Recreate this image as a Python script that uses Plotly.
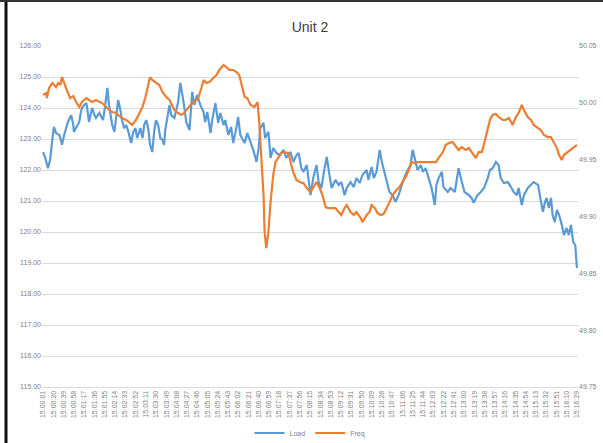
import plotly.graph_objects as go

# Sample times are seconds after 15:00:01
START = "15:00:01"

load_t = [0, 4, 9, 13, 17, 20, 24, 30, 33, 35, 39, 43, 46, 52, 56, 57, 61, 67, 70, 72,
          76, 80, 82, 85, 89, 91, 95, 98, 104, 108, 111, 115, 119, 122, 126, 128, 132, 135, 139, 143,
          146, 150, 154, 158, 161, 163, 167, 171, 174, 178, 180, 184, 187, 191, 195, 198, 202, 206, 209, 213,
          217, 221, 224, 226, 230, 234, 237, 243, 250, 254, 260, 265, 271, 276, 280, 285, 291, 297, 300, 304,
          310, 313, 319, 324, 328, 334, 337, 343, 348, 352, 358, 361, 365, 373, 378, 384, 389, 395, 399, 402,
          408, 411, 417, 421, 426, 432, 437, 445, 450, 458, 463, 469, 473, 478, 482, 488, 495, 500, 506, 510,
          515, 521, 525, 530, 534, 541, 547, 552, 558, 562, 569, 575, 580, 586, 591, 599, 602, 608, 612, 617,
          623, 627, 632, 636, 641, 647, 652, 658, 662, 667, 673, 680, 684, 690, 693, 699, 703, 708, 714, 719,
          725, 728, 732, 738, 741, 749, 754, 762, 767, 769, 775, 780, 788, 793, 797, 804, 810, 816, 823, 827,
          832, 838, 843, 847, 853, 860, 866, 871, 877, 880, 886, 890, 897, 903, 908, 916, 919, 925, 929, 932,
          936, 940, 943, 947, 951, 955, 960, 964, 969, 973, 977, 981, 985, 988]
load_mw = [122.58, 122.39, 122.06, 122.32, 122.97, 123.39, 123.19, 123.13, 122.97, 122.81,
           123.13, 123.35, 123.55, 123.77, 123.45, 123.23, 123.35, 123.55, 123.87, 124.00,
           124.10, 124.16, 123.94, 123.55, 123.87, 124.00, 123.77, 123.68, 123.84, 123.68,
           123.61, 124.10, 124.65, 124.10, 123.68, 123.45, 123.23, 123.61, 124.26, 123.94,
           123.61, 123.35, 123.45, 123.23, 122.97, 122.87, 123.23, 123.35, 123.03, 123.29,
           123.35, 123.03, 123.45, 123.61, 123.29, 122.81, 122.58, 123.29, 123.61, 123.45,
           123.03, 122.97, 122.81, 123.29, 123.77, 124.10, 123.77, 123.68, 124.19, 124.81,
           124.19, 123.55, 123.29, 124.52, 124.10, 124.42, 124.10, 123.87, 123.55, 123.87,
           123.19, 123.61, 124.16, 123.52, 123.84, 123.45, 123.61, 123.13, 123.39, 122.87,
           123.39, 123.71, 123.13, 122.87, 123.19, 122.90, 122.65, 122.26, 122.71, 123.35,
           123.52, 123.03, 123.23, 122.39, 122.71, 122.55, 122.48, 122.65, 122.39, 122.58,
           122.26, 122.48, 122.55, 122.06, 121.94, 122.16, 121.19, 121.74, 122.16, 121.61,
           121.42, 122.06, 122.42, 121.84, 121.42, 121.68, 121.52, 121.61, 121.19, 121.42,
           121.61, 121.45, 121.74, 121.58, 121.84, 122.00, 121.68, 122.10, 121.74, 121.94,
           122.65, 122.26, 121.94, 121.61, 121.29, 121.19, 120.97, 121.19, 121.42, 121.68,
           121.94, 122.16, 122.65, 122.26, 122.00, 122.16, 121.94, 122.06, 121.74, 121.42,
           120.87, 121.52, 121.74, 121.94, 121.45, 121.29, 121.42, 121.29, 121.84, 122.06,
           121.61, 121.29, 121.19, 121.10, 120.94, 121.19, 121.29, 121.42, 121.74, 122.00,
           122.06, 122.26, 122.16, 121.74, 121.58, 121.61, 121.45, 121.29, 121.19, 121.42,
           120.87, 121.19, 121.42, 121.52, 121.61, 121.52, 121.19, 120.65, 120.97, 121.10,
           120.77, 121.10, 120.55, 120.32, 120.71, 120.55, 120.23, 119.90, 120.13, 119.90,
           120.23, 119.68, 119.58, 118.84]

freq_t = [0, 6, 7, 11, 17, 24, 28, 32, 35, 39, 44, 50, 56, 61, 67, 72, 80, 85, 91, 98,
          104, 109, 117, 122, 128, 135, 141, 146, 154, 159, 165, 172, 178, 184, 189, 193, 198, 202, 209, 215,
          221, 228, 234, 239, 243, 250, 256, 261, 269, 274, 280, 287, 293, 297, 302, 308, 315, 321, 326, 334,
          339, 345, 352, 358, 363, 367, 373, 378, 384, 391, 397, 400, 404, 408, 410, 413, 417, 421, 426, 430,
          436, 441, 447, 454, 458, 463, 469, 475, 482, 488, 495, 500, 506, 512, 517, 523, 528, 534, 541, 547,
          552, 558, 562, 569, 575, 580, 588, 591, 599, 604, 608, 614, 619, 625, 630, 636, 641, 647, 654, 660,
          665, 673, 678, 682, 688, 693, 704, 717, 727, 732, 740, 745, 751, 758, 764, 769, 775, 782, 788, 795,
          801, 806, 812, 817, 823, 827, 832, 838, 843, 851, 856, 862, 869, 875, 880, 886, 890, 897, 903, 908,
          916, 921, 927, 934, 940, 945, 951, 955, 960, 964, 971, 977, 982, 988]
freq_hz = [50.0069, 50.0086, 50.0042, 50.0130, 50.0174, 50.0139, 50.0174, 50.0157, 50.0227, 50.0183,
           50.0113, 50.0042, 50.0060, 50.0007, 49.9963, 50.0007, 50.0042, 50.0025, 50.0007, 50.0025,
           50.0007, 49.9998, 49.9963, 49.9937, 49.9919, 49.9910, 49.9884, 49.9866, 49.9849, 49.9831,
           49.9805, 49.9849, 49.9910, 49.9963, 50.0042, 50.0113, 50.0227, 50.0201, 50.0174, 50.0157,
           50.0095, 50.0051, 50.0025, 49.9981, 49.9937, 49.9910, 49.9893, 49.9910, 49.9963, 49.9990,
           50.0007, 50.0042, 50.0130, 50.0201, 50.0174, 50.0183, 50.0218, 50.0245, 50.0289, 50.0333,
           50.0315, 50.0289, 50.0289, 50.0271, 50.0245, 50.0157, 50.0051, 50.0042, 49.9981, 49.9963,
           50.0007, 49.9831, 49.9541, 49.9189, 49.8863, 49.8722, 49.8863, 49.9127, 49.9365, 49.9479,
           49.9523, 49.9558, 49.9567, 49.9558, 49.9479, 49.9391, 49.9321, 49.9303, 49.9294, 49.9250,
           49.9215, 49.9259, 49.9303, 49.9250, 49.9189, 49.9083, 49.9074, 49.9074, 49.9074, 49.9039,
           49.9013, 49.9074, 49.9101, 49.9039, 49.9013, 49.9039, 49.8986, 49.8951, 49.9013, 49.9039,
           49.9101, 49.9074, 49.9030, 49.9013, 49.9022, 49.9074, 49.9127, 49.9189, 49.9233, 49.9259,
           49.9303, 49.9365, 49.9426, 49.9479, 49.9470, 49.9479, 49.9479, 49.9479, 49.9479, 49.9514,
           49.9567, 49.9629, 49.9646, 49.9655, 49.9620, 49.9585, 49.9611, 49.9585, 49.9602, 49.9558,
           49.9514, 49.9567, 49.9567, 49.9655, 49.9778, 49.9849, 49.9893, 49.9902, 49.9875, 49.9849,
           49.9849, 49.9866, 49.9805, 49.9875, 49.9910, 49.9981, 49.9937, 49.9875, 49.9849, 49.9805,
           49.9778, 49.9761, 49.9717, 49.9699, 49.9699, 49.9655, 49.9602, 49.9541, 49.9497, 49.9541,
           49.9567, 49.9585, 49.9611, 49.9630]

time_labels = ["15:00:01", "15:00:20", "15:00:39", "15:00:58", "15:01:17", "15:01:36", "15:01:55",
               "15:02:14", "15:02:33", "15:02:52", "15:03:11", "15:03:30", "15:03:49", "15:04:08",
               "15:04:27", "15:04:46", "15:05:05", "15:05:24", "15:05:43", "15:06:02", "15:06:21",
               "15:06:40", "15:06:59", "15:07:18", "15:07:37", "15:07:56", "15:08:15", "15:08:34",
               "15:08:53", "15:09:12", "15:09:31", "15:09:50", "15:10:09", "15:10:28", "15:10:47",
               "15:11:06", "15:11:25", "15:11:44", "15:12:03", "15:12:22", "15:12:41", "15:13:00",
               "15:13:19", "15:13:38", "15:13:57", "15:14:16", "15:14:35", "15:14:54", "15:15:13",
               "15:15:32", "15:15:51", "15:16:10", "15:16:29"]

load_ticks = [115, 116, 117, 118, 119, 120, 121, 122, 123, 124, 125, 126]
freq_ticks = [49.75, 49.80, 49.85, 49.90, 49.95, 50.00, 50.05]


def to_sec(label):
    h, m, s = (int(p) for p in label.split(":"))
    return h * 3600 + m * 60 + s


t0 = to_sec(START)
tick_pos = [to_sec(lb) - t0 for lb in time_labels]

W, H = 603, 443
ML, MR, MT, MB = 42, 25, 46, 56
PW, PH = W - ML - MR, H - MT - MB

BLUE = "#5b9bd5"
ORANGE = "#ed7d31"
GRID = "#d9d9d9"
TXT = "#7f7f7f"
FONT = "Liberation Sans"

fig = go.Figure()
fig.add_trace(go.Scatter(x=load_t, y=load_mw, name="Load", mode="lines",
                         line=dict(color=BLUE, width=2.2)))
fig.add_trace(go.Scatter(x=freq_t, y=freq_hz, name="Freq", mode="lines", yaxis="y2",
                         line=dict(color=ORANGE, width=2.2)))


def px_x(p):
    return (p - ML) / PW


def px_y(p):
    return (H - MB - p) / PH


# outer frame edges of the chart image
shapes = [
    dict(type="line", xref="paper", yref="paper", x0=px_x(6), x1=px_x(6),
         y0=px_y(0), y1=px_y(H), line=dict(color="#111111", width=3)),
    dict(type="line", xref="paper", yref="paper", x0=px_x(0), x1=px_x(W),
         y0=px_y(1), y1=px_y(1), line=dict(color="#333333", width=2)),
]

fig.update_layout(
    template="none",
    width=W, height=H,
    margin=dict(l=ML, r=MR, t=MT, b=MB, autoexpand=False),
    paper_bgcolor="white", plot_bgcolor="white",
    font=dict(family=FONT, color=TXT, size=7),
    title=dict(text="Unit 2", x=0.5, xref="paper", xanchor="center",
               y=1 - 27 / H, yref="container", yanchor="middle",
               font=dict(family=FONT, size=14, color="#404040")),
    showlegend=True,
    legend=dict(orientation="h", x=0.5, xanchor="center", xref="paper",
                y=1 - 433 / H, yref="container", yanchor="middle",
                font=dict(size=7, color=TXT), itemwidth=30,
                bgcolor="rgba(0,0,0,0)"),
    xaxis=dict(range=[-2, 990], tickmode="array", tickvals=tick_pos, ticktext=time_labels,
               tickangle=-90, showgrid=False, zeroline=False, showline=True,
               linecolor=GRID, linewidth=1, ticks="", tickfont=dict(size=7, color=TXT),
               automargin=False),
    yaxis=dict(range=[115, 126], tickmode="array", tickvals=load_ticks,
               tickformat=".2f", showgrid=True, gridcolor=GRID, gridwidth=1,
               zeroline=False, showline=False, ticks="", tickfont=dict(size=7, color=TXT),
               automargin=False),
    yaxis2=dict(range=[49.75, 50.05], tickmode="array", tickvals=freq_ticks,
                tickformat=".2f", overlaying="y", side="right", showgrid=False,
                zeroline=False, showline=False, ticks="", tickfont=dict(size=7, color=TXT),
                automargin=False),
    shapes=shapes,
)

fig.write_html("out.html")
